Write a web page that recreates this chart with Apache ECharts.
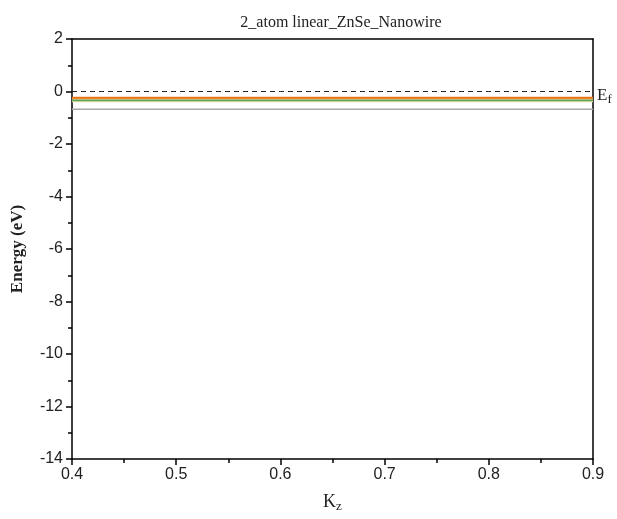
<!DOCTYPE html>
<html lang="en">
<head>
    <meta charset="UTF-8">
    <title>ZnSe nanowire bands</title>
    <style>
        html, body { margin: 0; padding: 0; background: #fff; }
        #chart-box { width: 617px; height: 519px; }
    </style>
</head>
<body>
<div id="chart-box"></div>
<script src="https://cdn.jsdelivr.net/npm/echarts@6/dist/echarts.min.js"></script>
<script>
    // k points along z
    var kz = [0.4, 0.5, 0.6, 0.7, 0.8, 0.9];
    // bands (eV), flat near the Fermi level
    var fermi = [0, 0, 0, 0, 0, 0];
    var bandOrange = [-0.24, -0.24, -0.24, -0.24, -0.24, -0.24];
    var bandYellow = [-0.28, -0.28, -0.28, -0.28, -0.28, -0.28];
    var bandGreen = [-0.33, -0.33, -0.33, -0.33, -0.33, -0.33];
    var bandPale = [-0.38, -0.38, -0.38, -0.38, -0.38, -0.38];
    var bandGray = [-0.68, -0.68, -0.68, -0.68, -0.68, -0.68];

    function pairs(ys) {
        return kz.map(function (k, i) { return [k, ys[i]]; });
    }

    function band(name, ys, color, width) {
        return {
            name: name,
            type: 'line',
            data: pairs(ys),
            symbol: 'none',
            silent: true,
            lineStyle: { color: color, width: width }
        };
    }

    var myChart = echarts.init(document.getElementById('chart-box'));

    var option = {
        animation: false,
        title: {
            text: '2_atom linear_ZnSe_Nanowire',
            left: 336,
            textAlign: 'center',
            top: 10,
            textStyle: { fontFamily: 'Liberation Serif', fontSize: 16, fontWeight: 'normal', color: '#222' }
        },
        grid: { left: 72, right: 24, top: 39, bottom: 60, containLabel: false, outerBoundsMode: 'none' },
        xAxis: [{
            type: 'value',
            min: 0.4, max: 0.9, interval: 0.1,
            name: 'K{sub|z}',
            nameLocation: 'middle',
            nameGap: 32,
            nameTextStyle: {
                fontFamily: 'Liberation Serif', fontSize: 18, color: '#222',
                rich: { sub: { fontFamily: 'Liberation Serif', fontSize: 13, verticalAlign: 'bottom', padding: [9, 0, 0, 0] } }
            },
            axisLine: { onZero: false, lineStyle: { color: '#000', width: 1.5 } },
            axisTick: { inside: false, length: 6, lineStyle: { color: '#000', width: 1.5 } },
            minorTick: { show: true, splitNumber: 2, length: 4, lineStyle: { color: '#000', width: 1.5 } },
            splitLine: { show: false },
            axisLabel: { fontFamily: 'Liberation Sans', fontSize: 16, color: '#222', margin: 8 }
        }, {
            type: 'value',
            position: 'top',
            min: 0.4, max: 0.9,
            axisLine: { show: true, onZero: false, lineStyle: { color: '#000', width: 1.5 } },
            axisTick: { show: false },
            axisLabel: { show: false },
            splitLine: { show: false }
        }],
        yAxis: [{
            type: 'value',
            min: -14, max: 2, interval: 2,
            name: 'Energy (eV)',
            nameLocation: 'middle',
            nameGap: 46,
            nameTextStyle: { fontFamily: 'Liberation Serif', fontSize: 17, fontWeight: 'bold', color: '#222' },
            axisLine: { onZero: false, lineStyle: { color: '#000', width: 1.5 } },
            axisTick: { inside: false, length: 6, lineStyle: { color: '#000', width: 1.5 } },
            minorTick: { show: true, splitNumber: 2, length: 4, lineStyle: { color: '#000', width: 1.5 } },
            splitLine: { show: false },
            axisLabel: { fontFamily: 'Liberation Sans', fontSize: 16, color: '#222', margin: 9 }
        }, {
            type: 'value',
            position: 'right',
            min: -14, max: 2,
            axisLine: { show: true, onZero: false, lineStyle: { color: '#000', width: 1.5 } },
            axisTick: { show: false },
            axisLabel: { show: false },
            splitLine: { show: false }
        }],
        series: [
            band('gray', bandGray, '#a8a8a8', 1.5),
            band('pale', bandPale, '#f5e3b0', 1.5),
            band('green', bandGreen, '#5c9f5c', 2),
            band('yellow', bandYellow, '#e6c35a', 1.5),
            band('orange', bandOrange, '#e8731c', 2),
            {
                name: 'Ef',
                type: 'line',
                data: pairs(fermi),
                symbol: 'none',
                silent: true,
                lineStyle: { color: '#222', width: 1, type: [5, 4] },
                endLabel: {
                    show: true,
                    distance: 4,
                    formatter: 'E{sub|f}',
                    fontFamily: 'Liberation Serif',
                    fontSize: 17,
                    color: '#222',
                    offset: [0, 4],
                    rich: { sub: { fontFamily: 'Liberation Serif', fontSize: 13, verticalAlign: 'bottom', padding: [9, 0, 0, 0] } }
                }
            }
        ]
    };

    myChart.setOption(option);
</script>
</body>
</html>
